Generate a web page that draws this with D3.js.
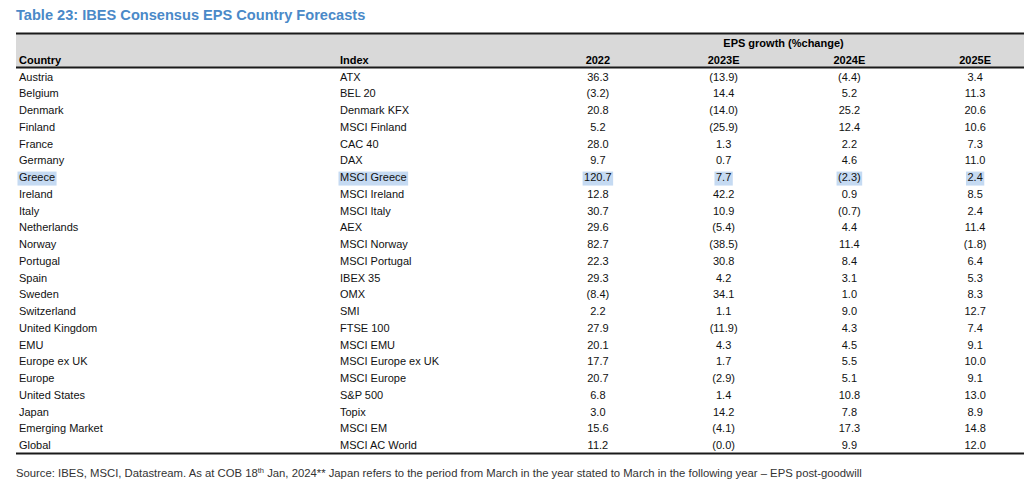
<!DOCTYPE html>
<html><head><meta charset="utf-8">
<script src="https://cdn.jsdelivr.net/npm/d3@7/dist/d3.min.js"></script>
<style>
html,body{margin:0;padding:0;background:#fff;}
svg{display:block;font-family:"Liberation Sans",Arial,sans-serif;}
</style></head>
<body>
<svg id="c" width="1024" height="495"></svg>
<script>
const title = "Table 23: IBES Consensus EPS Country Forecasts";
const groupHeader = "EPS growth (%change)";
const yearLabels = ["2022","2023E","2024E","2025E"];
const countries = ["Austria","Belgium","Denmark","Finland","France","Germany","Greece","Ireland","Italy","Netherlands","Norway","Portugal","Spain","Sweden","Switzerland","United Kingdom","EMU","Europe ex UK","Europe","United States","Japan","Emerging Market","Global"];
const indices = ["ATX","BEL 20","Denmark KFX","MSCI Finland","CAC 40","DAX","MSCI Greece","MSCI Ireland","MSCI Italy","AEX","MSCI Norway","MSCI Portugal","IBEX 35","OMX","SMI","FTSE 100","MSCI EMU","MSCI Europe ex UK","MSCI Europe","S&P 500","Topix","MSCI EM","MSCI AC World"];
const eps2022 = [36.3,-3.2,20.8,5.2,28.0,9.7,120.7,12.8,30.7,29.6,82.7,22.3,29.3,-8.4,2.2,27.9,20.1,17.7,20.7,6.8,3.0,15.6,11.2];
const eps2023 = [-13.9,14.4,-14.0,-25.9,1.3,0.7,7.7,42.2,10.9,-5.4,-38.5,30.8,4.2,34.1,1.1,-11.9,4.3,1.7,-2.9,1.4,14.2,-4.1,-0.01];
const eps2024 = [-4.4,5.2,25.2,12.4,2.2,4.6,-2.3,0.9,-0.7,4.4,11.4,8.4,3.1,1.0,9.0,4.3,4.5,5.5,5.1,10.8,7.8,17.3,9.9];
const eps2025 = [3.4,11.3,20.6,10.6,7.3,11.0,2.4,8.5,2.4,11.4,-1.8,6.4,5.3,8.3,12.7,7.4,9.1,10.0,9.1,13.0,8.9,14.8,12.0];
const highlighted = ["Greece"];
const footnote = "Source: IBES, MSCI, Datastream. As at COB 18";
const footSup = "th";
const footRest = " Jan, 2024** Japan refers to the period from March in the year stated to March in the following year \u2013 EPS post-goodwill";

const series = [eps2022, eps2023, eps2024, eps2025];
const fmt = v => v < 0 ? "(" + Math.abs(v).toFixed(1) + ")" : v.toFixed(1);

const svg = d3.select("#c");
const tableLeft = 16, tableRight = 1024;

// title
svg.append("text").attr("x", 16).attr("y", 20)
  .attr("font-size", 14.6).attr("font-weight", "bold").attr("fill", "#4a89c8")
  .text(title);

// header background
svg.append("rect").attr("x", tableLeft).attr("y", 34).attr("width", tableRight - tableLeft).attr("height", 33)
  .attr("fill", "#d9d9d9");
svg.append("line").attr("x1", tableLeft).attr("x2", tableRight).attr("y1", 33.5).attr("y2", 33.5)
  .attr("stroke", "#1a1a1a").attr("stroke-width", 2);
svg.append("line").attr("x1", tableLeft).attr("x2", tableRight).attr("y1", 67.5).attr("y2", 67.5)
  .attr("stroke", "#1a1a1a").attr("stroke-width", 2);

const y = d3.scaleBand().domain(countries).range([68, 453.5]);
const x = d3.scaleBand().domain(yearLabels).range([535, 1038]);

// headers
svg.append("text").attr("x", 19).attr("y", 64).attr("font-size", 11).attr("font-weight", "bold").text("Country");
svg.append("text").attr("x", 340).attr("y", 64).attr("font-size", 11).attr("font-weight", "bold").text("Index");
svg.append("text").attr("x", (x("2023E") + x("2024E") + x.bandwidth()) / 2 - 3).attr("y", 46.5)
  .attr("text-anchor", "middle").attr("font-size", 11).attr("font-weight", "bold").text(groupHeader);
svg.selectAll("text.yr").data(yearLabels).join("text").attr("class", "yr")
  .attr("x", d => x(d) + x.bandwidth() / 2).attr("y", 64)
  .attr("text-anchor", "middle").attr("font-size", 11).attr("font-weight", "bold").text(d => d);

// rows
const rows = countries.map((c, i) => ({ c, idx: indices[i], vals: series.map(s => s[i]) }));
const hlG = svg.append("g");
const bodyG = svg.append("g").attr("font-size", 11).attr("fill", "#111");

const cells = [];
rows.forEach(r => {
  const by = y(r.c) + 12.5;
  cells.push({ row: r.c, x: 19, y: by, anchor: "start", t: r.c });
  cells.push({ row: r.c, x: 340, y: by, anchor: "start", t: r.idx });
  r.vals.forEach((v, j) => cells.push({ row: r.c, x: x(yearLabels[j]) + x.bandwidth() / 2, y: by, anchor: "middle", t: fmt(v) }));
});
bodyG.selectAll("text").data(cells).join("text")
  .attr("x", d => d.x).attr("y", d => d.y).attr("text-anchor", d => d.anchor).text(d => d.t)
  .each(function(d) {
    if (highlighted.includes(d.row)) {
      const b = this.getBBox();
      hlG.append("rect").attr("x", b.x - 1.5).attr("y", d.y - 9.5).attr("width", b.width + 3).attr("height", 14)
        .attr("fill", "#c5daf2");
    }
  });

// bottom rule
svg.append("line").attr("x1", tableLeft).attr("x2", tableRight).attr("y1", 453.5).attr("y2", 453.5)
  .attr("stroke", "#1a1a1a").attr("stroke-width", 2);

// footnote
const ft = svg.append("text").attr("x", 16).attr("y", 476.5).attr("font-size", 11.3).attr("fill", "#333");
ft.append("tspan").text(footnote);
ft.append("tspan").attr("font-size", 7.5).attr("dy", -4).text(footSup);
ft.append("tspan").attr("dy", 4).text(footRest);
</script>
</body></html>
